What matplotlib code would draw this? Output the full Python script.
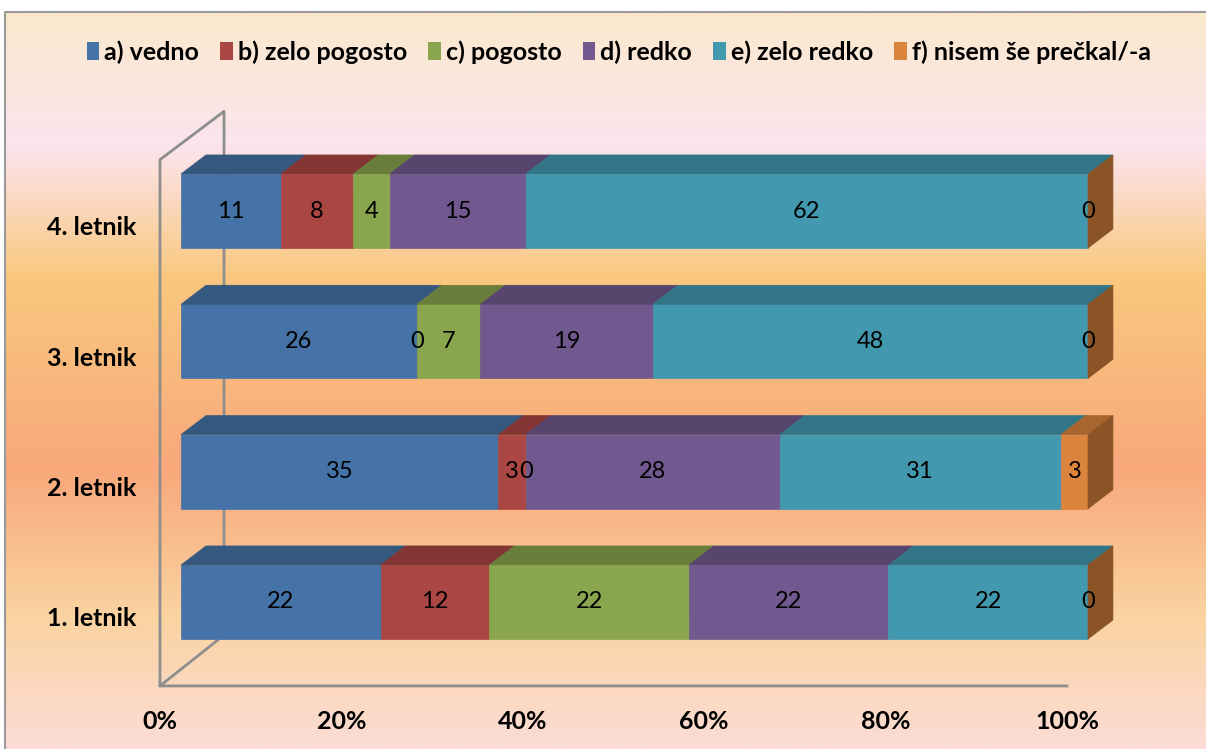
import numpy as np
import matplotlib.pyplot as plt
from matplotlib.colors import LinearSegmentedColormap
from matplotlib.patches import Polygon, Patch

plt.rcParams['font.family'] = ['Lato', 'DejaVu Sans']

# data (percent per year of study)
categories = ['1. letnik', '2. letnik', '3. letnik', '4. letnik']
series = ['a) vedno', 'b) zelo pogosto', 'c) pogosto', 'd) redko', 'e) zelo redko', 'f) nisem še prečkal/-a']
vedno = [22, 35, 26, 11]
zelo_pogosto = [12, 3, 0, 8]
pogosto = [22, 0, 7, 4]
redko = [22, 28, 19, 15]
zelo_redko = [22, 31, 48, 62]
nisem = [0, 3, 0, 0]
values = [vedno, zelo_pogosto, pogosto, redko, zelo_redko, nisem]
ticks = [0, 20, 40, 60, 80, 100]

front_cols = ['#4572A7', '#AA4643', '#89A54E', '#71588F', '#4198AF', '#DB843D']
top_cols = ['#35587F', '#823532', '#6A7E3B', '#58456E', '#327587', '#A8652E']
side_col = '#8A5426'

# background
fig = plt.figure(figsize=(12.06, 7.49), dpi=100)
bg = fig.add_axes([0, 0, 1, 1])
bg.set_xlim(0, 1206)
bg.set_ylim(749, 0)
bg.axis('off')
stops = [(0.0, '#FAE9CD'), (0.18, '#FCE4EE'), (0.36, '#F9C87E'),
         (0.62, '#F8A87B'), (0.82, '#FAD3A0'), (1.0, '#FCDCD6')]
cmap = LinearSegmentedColormap.from_list('bg', stops)
bg.imshow(np.linspace(0, 1, 600).reshape(-1, 1), extent=(5, 1206, 749, 12),
          aspect='auto', cmap=cmap, zorder=0)
bg.plot([5, 5, 1206], [749, 12, 12], color='#9A9A9A', lw=1.5, zorder=1)

# main axes in data units
ax = fig.add_axes([0, 0, 1, 1], facecolor='none')
ax.set_xlim(-19.96, 113.01)
ax.set_ylim(-1.128, 4.619)
ax.axis('off')

bar_h = 0.568
dx, dy = 2.75, 0.146          # depth of bars
fx, fy = -2.32, -0.13         # front plane shift
bx, by = 4.74, 0.26           # back wall shift
ypos = np.arange(len(categories))
frame_col = '#8E8E8E'

# 3d frame
floor_front = ypos[0] - bar_h / 2 + fy - 0.23
floor_back = floor_front + (by - fy)
wall_top = ypos[-1] + bar_h / 2 + 0.11
ax.plot([fx, fx, bx, bx], [floor_front, wall_top, wall_top + (by - fy) * 0.95, floor_back],
        color=frame_col, lw=2, zorder=1)
ax.plot([ticks[-1] + fx, fx, bx], [floor_front, floor_front, floor_back], color=frame_col, lw=2, zorder=1)

left = np.zeros(len(categories))
for s, vals in enumerate(values):
    vals = np.array(vals, dtype=float)
    ax.barh(ypos, vals, left=left, height=bar_h, color=front_cols[s],
            edgecolor=front_cols[s], lw=0.5, zorder=3)
    for i in range(len(categories)):
        l, r = left[i], left[i] + vals[i]
        t = ypos[i] + bar_h / 2
        if vals[i] > 0:
            ax.add_patch(Polygon([(l, t), (l + dx, t + dy), (r + dx, t + dy), (r, t)],
                                 closed=True, facecolor=top_cols[s], edgecolor=top_cols[s],
                                 lw=0.5, zorder=3))
        ax.text(l + vals[i] / 2, ypos[i], '%d' % vals[i], ha='center', va='center',
                fontsize=17, color='black', zorder=5)
    left += vals

for i in range(len(categories)):
    r = left[i]
    b, t = ypos[i] - bar_h / 2, ypos[i] + bar_h / 2
    ax.add_patch(Polygon([(r, b), (r + dx, b + dy), (r + dx, t + dy), (r, t)],
                         closed=True, facecolor=side_col, edgecolor=side_col, lw=0.5, zorder=4))
    ax.text(-4.9, ypos[i] + fy, categories[i], ha='right', va='center',
            fontsize=18, fontweight='bold')

for tv in ticks:
    ax.text(tv + fx, floor_front - 0.27, '%d%%' % tv, ha='center', va='center',
            fontsize=18, fontweight='bold')

handles = [Patch(facecolor=c, edgecolor='none') for c in front_cols]
fig.legend(handles, series, loc='center', bbox_to_anchor=(0.513, 1 - 52 / 749), ncol=6,
           frameon=False, prop={'size': 18, 'weight': 'bold'}, handlelength=0.5,
           handleheight=0.75, handletextpad=0.2, columnspacing=0.85)

fig.savefig('out.png', dpi=100)
